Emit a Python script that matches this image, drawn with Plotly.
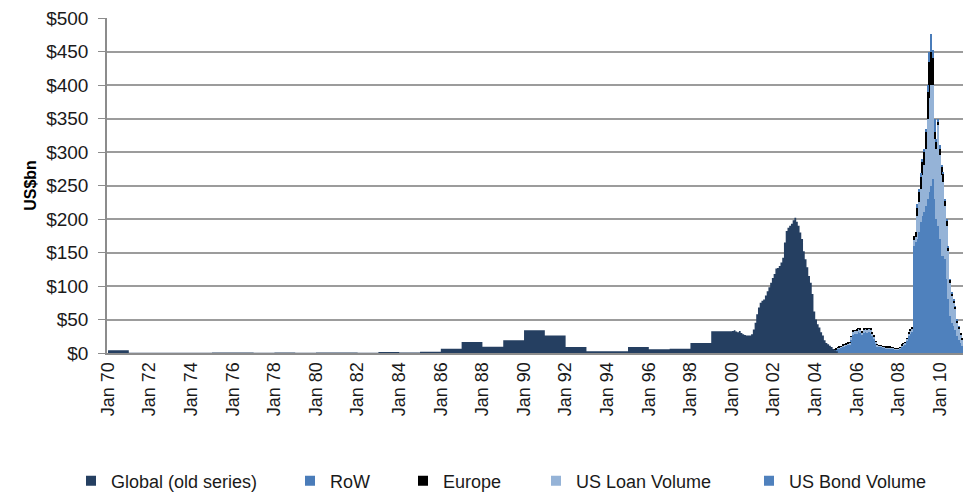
import pandas as pd
import plotly.graph_objects as go

# ---------------- data ----------------
# Global (old series): annual values 1970-1999, then monthly 2000-01 .. 2005-02 (US$bn)
global_years = list(range(1970, 2000))
global_annual = [4, 0.5, 0.4, 0.4, 0.5, 0.8, 0.6, 0.5, 0.6, 0.5,
                 0.7, 0.6, 0.5, 1.5, 0.6, 1.8, 6.4, 16.5, 9.5, 19,
                 34, 26, 9, 2.5, 2.5, 9, 5.5, 6.5, 15, 32.5]
global_monthly_start = "2000-01-01"
global_monthly = [33, 34, 32, 31, 33, 30, 28, 27, 26, 26, 26, 28,
                  35, 45, 58, 68, 75, 78, 80, 86, 92, 98, 105, 112,
                  118, 126, 127, 130, 135, 142, 165, 182, 187, 190, 193, 198,
                  202, 196, 190, 180, 170, 152, 140, 128, 115, 105, 88, 62,
                  50, 43, 38, 31, 26, 19, 15, 13, 11, 9, 6, 4,
                  2.5, 1]

# New series: monthly Nov 2004 .. Feb 2011 (US$bn)
new_start = "2004-11-01"
us_bond = [3, 4,
           5, 6, 7, 8, 9, 10, 11, 12, 13, 20, 27, 28,
           29, 31, 30, 27, 30, 31, 30, 31, 30, 25, 21, 14,
           10, 9, 9, 8, 8, 7, 7, 7, 6, 6, 5, 5,
           5, 6, 9, 11, 13, 18, 25, 29, 32, 160, 165, 170,
           180, 195, 205, 210, 220, 230, 240, 250, 260, 230, 200, 190,
           170, 145, 145, 140, 110, 80, 55, 45, 40, 35, 25, 20,
           15, 10]
us_loan = [1, 0.5,
           0.5, 1.5, 1.5, 1.5, 2, 2, 2, 2, 2, 4, 5, 5,
           5, 5, 5, 4, 5, 5, 5, 5, 5, 4, 4, 2.5,
           2, 1.5, 1.5, 1.5, 1.5, 1.5, 1.5, 1.5, 1.5, 1.5, 1.5, 1.5,
           1.5, 1.5, 2.5, 2.5, 2.5, 3.5, 4, 5, 5, 8, 8, 35,
           45, 50, 60, 70, 85, 120, 140, 150, 140, 90, 105, 150,
           125, 120, 110, 80, 80, 72, 50, 40, 35, 30, 20, 16,
           12, 9]
europe = [0, 0.5,
          0.5, 0.5, 0.5, 0.5, 1, 1, 1, 1, 1, 1, 1, 1,
          1, 1, 1, 1, 1, 1, 1.5, 1, 1, 1, 1, 0.5,
          1, 0.5, 0.5, 0.5, 0.5, 0.5, 0.5, 0.5, 0.5, 0.5, 0.5, 0.5,
          0.5, 0.5, 0.5, 0.5, 0.5, 0.5, 1, 1, 1, 7, 7, 12,
          15, 18, 20, 20, 25, 40, 55, 50, 40, 10, 10, 5,
          10, 12, 12, 8, 8, 6, 4, 4, 4, 4, 4, 3,
          3, 3]
row = [0, 0,
       0, 0, 0, 0, 0, 0, 0, 0, 0, 0, 0, 0,
       0, 0, 0, 0, 0, 0, 0, 0, 0, 0, 0, 0,
       0, 0, 0, 0, 0, 0, 0, 0, 0, 0, 0, 0,
       0, 0, 0, 0, 0, 0, 0, 0, 0, 0, 0, 5,
       5, 5, 5, 5, 5, 10, 15, 26, 12, 20, 5, 5,
       5, 3, 3, 2, 2, 2, 1, 1, 1, 1, 1, 1,
       0, 0]

series_names = ["Global (old series)", "RoW", "Europe", "US Loan Volume", "US Bond Volume"]
colors = {"Global (old series)": "#253F61", "RoW": "#4A7CB9", "Europe": "#000000",
          "US Loan Volume": "#95B3D7", "US Bond Volume": "#4F81BD"}

# ---------------- build ----------------
g_x = [pd.Timestamp(f"{y}-01-01") for y in global_years] + \
      list(pd.date_range(global_monthly_start, periods=len(global_monthly), freq="MS"))
g_y = global_annual + global_monthly
new_x = pd.date_range(new_start, periods=len(us_bond), freq="MS")

FONT = "Liberation Sans, Arial, sans-serif"
W, H = 963, 493
PL, PT, PB = 107, 18, 493 - 353
PW, PH = W - PL, H - PT - PB

fig = go.Figure()

fig.add_trace(go.Scatter(x=g_x, y=g_y, mode="lines", line=dict(width=0, shape="hv", color=colors["Global (old series)"]),
                         fill="tozeroy", fillcolor=colors["Global (old series)"], showlegend=False,
                         name="Global (old series)"))
for nm, vals in [("US Bond Volume", us_bond), ("US Loan Volume", us_loan), ("Europe", europe), ("RoW", row)]:
    fig.add_trace(go.Bar(x=new_x, y=vals, name=nm, marker=dict(color=colors[nm], line=dict(width=0)),
                         showlegend=False))

# legend entries (one legend per item so they can be spread like the original)
legend_text_px = [111, 330, 443, 576, 789]
layout_legends = {}
for i, nm in enumerate(series_names):
    key = "legend" if i == 0 else f"legend{i + 1}"
    fig.add_trace(go.Scatter(x=[None], y=[None], mode="markers", name=nm,
                             marker=dict(symbol="square", size=10, color=colors[nm]),
                             legend=key, showlegend=True))
    layout_legends[key] = dict(x=(legend_text_px[i] - 40 - PL) / PW, xanchor="left",
                               y=(353 - 481) / PH, yanchor="middle", orientation="h",
                               bgcolor="rgba(0,0,0,0)", font=dict(family=FONT, size=18, color="#1a1a1a"),
                               itemsizing="trace")

fig.update_layout(
    width=W, height=H,
    margin=dict(l=PL, r=0, t=PT, b=PB, autoexpand=False),
    paper_bgcolor="white", plot_bgcolor="white",
    barmode="stack", bargap=0.15,
    font=dict(family=FONT, size=18, color="#1a1a1a"),
    xaxis=dict(type="date", range=["1969-12-14", "2011-02-08"], tickformat="%b %y", dtick="M24",
               tick0="1970-01-01", tickangle=-90, showgrid=False, showline=True, linecolor="#8C8C8C",
               linewidth=2, ticks="", automargin=False,
               tickfont=dict(family=FONT, size=18, color="#1a1a1a")),
    yaxis=dict(range=[0, 500], dtick=50, tickprefix="$", showgrid=True, gridcolor="#9C9C9C", gridwidth=1.5,
               zeroline=False, showline=True, linecolor="#8C8C8C", linewidth=1.5, ticks="outside",
               ticklen=7, tickcolor="#8C8C8C", ticklabelstandoff=6, automargin=False,
               ticklabeloverflow="allow",
               tickfont=dict(family=FONT, size=19, color="#1a1a1a"),
               title=dict(text="<b>US$bn</b>", font=dict(family=FONT, size=16, color="#000000"), standoff=6)),
    **layout_legends,
)

# remove the browser's default 8px page margin so the figure fills the window exactly
fig.write_html("out.html", config={"displayModeBar": False},
               post_script="document.body.style.margin='0';")
